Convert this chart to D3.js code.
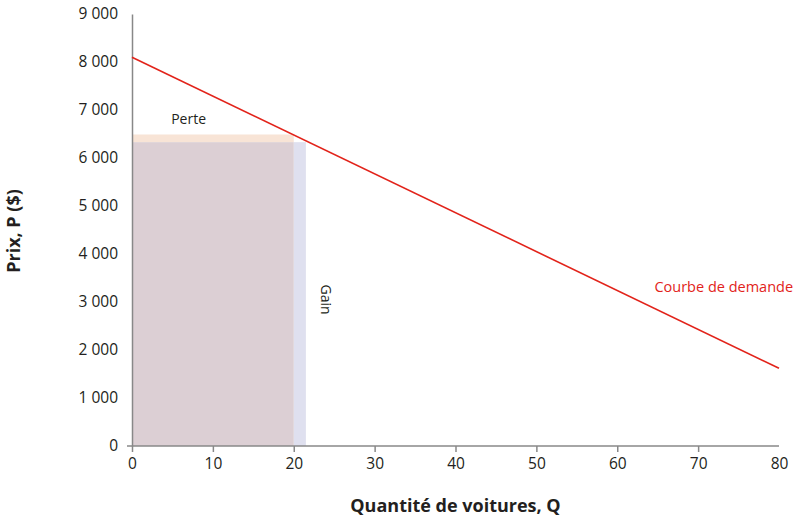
<!DOCTYPE html>
<html>
<head>
<meta charset="utf-8">
<script src="https://cdn.jsdelivr.net/npm/d3@7"></script>
<style>
  body { margin: 0; background: #fff; }
  text { font-family: "Open Sans", "Noto Sans", sans-serif; fill: #231f20; }
</style>
</head>
<body>
<div id="chart"></div>
<script>
// Demand curve endpoints (Q, P)
const demandQ = [0, 80];
const demandP = [8100, 1620];

// Revenue rectangles: [q0, q1, p0, p1]
const revenueBox = [0, 20, 0, 6330];
const perteBox = [0, 20, 6330, 6490];
const gainBox = [20, 21.5, 0, 6330];

const xTicks = [0, 10, 20, 30, 40, 50, 60, 70, 80];
const yTicks = [0, 1000, 2000, 3000, 4000, 5000, 6000, 7000, 8000, 9000];

const width = 810, height = 521;
const margin = { top: 14, right: 31, bottom: 75, left: 132 };
const innerW = width - margin.left - margin.right;
const innerH = height - margin.top - margin.bottom;

const svg = d3.select("#chart").append("svg")
    .attr("width", width)
    .attr("height", height);

const g = svg.append("g")
    .attr("transform", `translate(${margin.left},${margin.top})`);

const x = d3.scaleLinear().domain([0, 80]).range([0, innerW]);
const y = d3.scaleLinear().domain([0, 9000]).range([innerH, 0]);

// shaded areas
function box(b, color) {
    g.append("rect")
        .attr("x", x(b[0]))
        .attr("y", y(b[3]))
        .attr("width", x(b[1]) - x(b[0]))
        .attr("height", y(b[2]) - y(b[3]))
        .style("fill", color);
}
box(gainBox, "#dfe0ef");
box(perteBox, "#f8e4d6");
box(revenueBox, "#dccfd4");

// axes
const fmt = d => d3.format(",")(d).replace(/,/g, " ");

const xAxis = g.append("g")
    .attr("transform", `translate(0,${innerH})`)
    .call(d3.axisBottom(x).tickValues(xTicks).tickSize(6).tickSizeOuter(0).tickPadding(6));
xAxis.select(".domain").attr("d", `M-5,0H${innerW}`);

const yAxis = g.append("g")
    .call(d3.axisLeft(y).tickValues(yTicks).tickSize(0).tickPadding(14).tickFormat(fmt));

[xAxis, yAxis].forEach(a => {
    a.select(".domain").style("stroke", "#888").style("stroke-width", 1.5);
    a.selectAll(".tick line").style("stroke", "#888").style("stroke-width", 1.5);
    a.selectAll("text")
        .style("font-family", "'Open Sans', sans-serif")
        .style("font-size", "15.5px")
        .style("fill", "#231f20");
});
xAxis.selectAll(".tick").filter(d => d === 80).select("line").remove();

// demand curve
g.append("line")
    .attr("x1", x(demandQ[0]))
    .attr("y1", y(demandP[0]))
    .attr("x2", x(demandQ[1]))
    .attr("y2", y(demandP[1]))
    .style("stroke", "#e2231a")
    .style("stroke-width", 1.6);

// labels
g.append("text")
    .attr("x", x(7))
    .attr("y", y(6490) - 10)
    .attr("text-anchor", "middle")
    .style("font-size", "14px")
    .text("Perte");

g.append("text")
    .attr("transform", `translate(${x(23.4)},${y(3050)}) rotate(90)`)
    .attr("text-anchor", "middle")
    .style("font-size", "14px")
    .text("Gain");

g.append("text")
    .attr("x", x(64.6))
    .attr("y", y(3200))
    .style("font-size", "14.5px")
    .style("fill", "#e2231a")
    .text("Courbe de demande");

// axis titles
svg.append("text")
    .attr("x", margin.left + innerW / 2)
    .attr("y", 512)
    .attr("text-anchor", "middle")
    .style("font-size", "18px")
    .style("font-weight", "bold")
    .text("Quantité de voitures, Q");

svg.append("text")
    .attr("transform", `translate(20,${231}) rotate(-90)`)
    .attr("text-anchor", "middle")
    .style("font-size", "18px")
    .style("font-weight", "bold")
    .text("Prix, P ($)");
</script>
</body>
</html>
